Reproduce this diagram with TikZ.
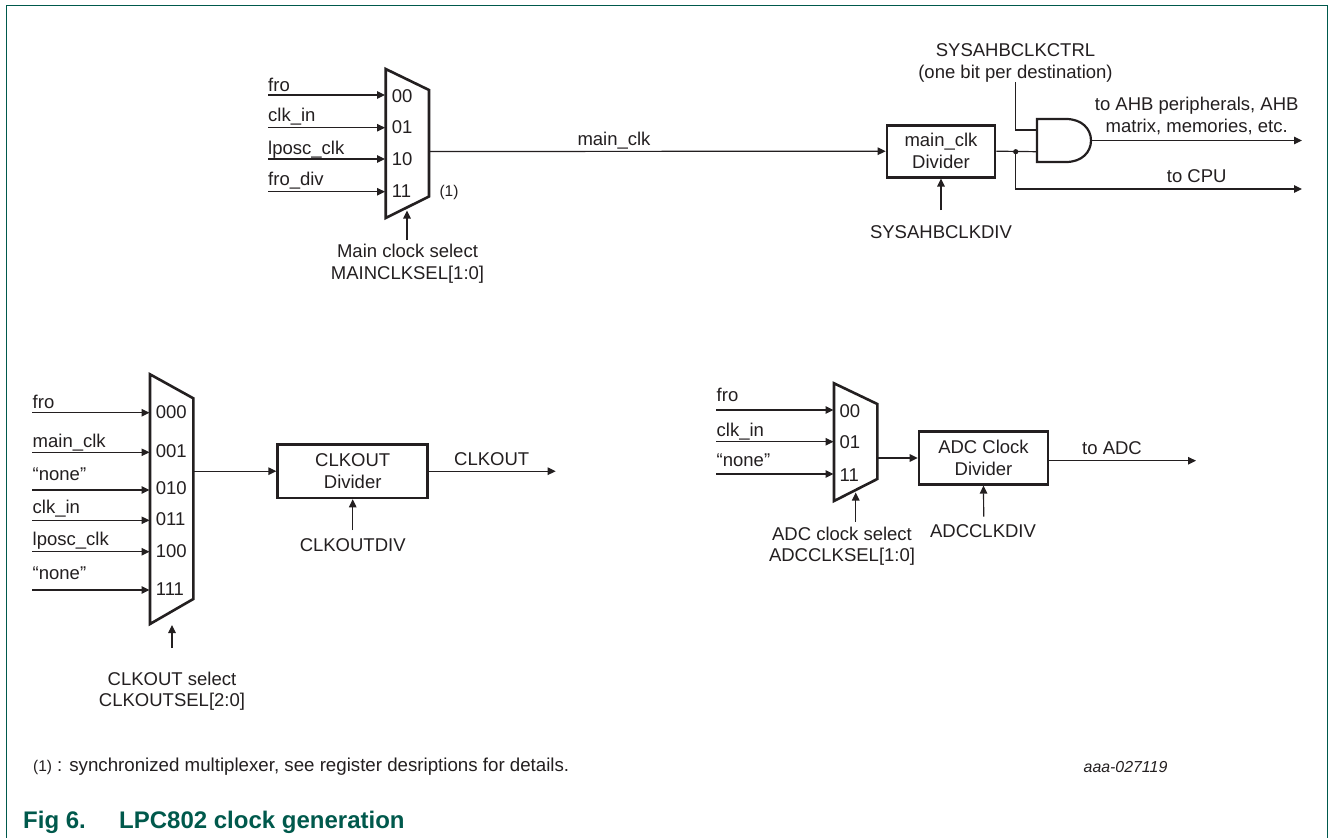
\documentclass[tikz,border=0pt]{standalone}
\usepackage{fontspec}
\setmainfont{Liberation Sans}
\usetikzlibrary{arrows.meta}
\definecolor{ink}{HTML}{231F20}
\definecolor{nxp}{HTML}{00594C}
\tikzset{
  wire/.style={draw=ink,line width=1.2pt},
  arrowwire/.style={wire,-{Triangle[length=8pt,width=7.5pt]}},
  thick box/.style={draw=ink,line width=2.6pt,inner sep=0pt,align=center,font=\fontsize{18.5}{22}\selectfont,text=ink},
  muxbody/.style={draw=ink,line width=2.6pt,line join=miter,fill=white},
  mlbl/.style={inner sep=0pt,text=ink,font=\fontsize{18.5}{21.5}\selectfont,align=center},
  lbl/.style={mlbl,text height=15.5pt,text depth=3.5pt},
  lblw/.style={lbl,anchor=west},
  smalltext/.style={inner sep=0pt,text=ink,font=\fontsize{15.5}{18}\selectfont},
  captext/.style={inner sep=0pt,anchor=west,text=nxp,font=\fontsize{24}{28}\selectfont\bfseries},
  frameline/.style={draw=nxp,line width=1.3pt}
}
\begin{document}
\begin{tikzpicture}[x=1pt,y=-1pt]
\useasboundingbox (0,0) rectangle (1328,838);
\clip (0,0) rectangle (1328,838);
\fill[white] (0,0) rectangle (1328,838);
\draw[frameline] (6.5,845) -- (6.5,5.8) -- (1327.2,5.8) -- (1327.2,845);

% ---------- main clock mux
\foreach \n/\y in {a/95,b/127.7,c/159,d/191.7}{
  \coordinate (m1s\n) at (268,\y);
  \coordinate (m1e\n) at (385,\y);
  \draw[arrowwire] (m1s\n) -- (m1e\n);
}
\draw[muxbody] (385.7,69) -- (429,90) -- (429,196.5) -- (385.7,218) -- cycle;
\foreach \n/\t/\ly/\d/\dy in {a/fro/85/00/96.7,b/clk\_in/115.5/01/127.7,c/lposc\_clk/148/10/159,d/fro\_div/179/11/191}{
  \node[lblw] (m1l\n) at (268,\ly) {\t};
  \node[lblw] (m1d\n) at (391.7,\dy) {\d};
}
\node[smalltext] (note) at (449,192.7) {(1)};
\coordinate (m1sel) at (407,210.5);
\coordinate (m1sels) at (407,240);
\draw[arrowwire] (m1sels) -- (m1sel);
\node[mlbl] (m1lab) at (407.5,263.5) {Main clock select\\MAINCLKSEL[1:0]};

\node[thick box,minimum width=108pt,minimum height=52pt] (maindiv) at (941,151.2) {main\_clk\\Divider};
\coordinate (m1out) at (429,151.5);
\draw[arrowwire] (m1out) -- (maindiv.west);
\node[lbl] (mainlab) at (614,139) {main\_clk};
\coordinate (sysdiv) at (941,210);
\draw[arrowwire] (sysdiv) -- (maindiv.south);
\node[lbl] (sysdivlab) at (941,232) {SYSAHBCLKDIV};

% AND gate
\coordinate (andtl) at (1037,119);
\coordinate (andbl) at (1037,162);
\coordinate (andout) at (1091,140.5);
\draw[draw=ink,line width=2.2pt,fill=white] (andtl) -- (1066,119) .. controls (1082,119) and (1091,129) .. (andout) .. controls (1091,152) and (1082,162) .. (1066,162) -- (andbl) -- cycle;
\coordinate (dot) at (1015.7,151.7);
\coordinate (andb) at (1037,151.7);
\coordinate (andt) at (1037,130);
\coordinate (ctrl) at (1015.7,82);
\coordinate (ahb) at (1302,140.5);
\coordinate (cpu) at (1302,189);
\coordinate (cpuk) at (1015.7,189);
\draw[wire] (maindiv.east) -- (andb);
\draw[wire] (ctrl) |- (andt);
\draw[arrowwire] (andout) -- (ahb);
\draw[arrowwire] (dot) -- (cpuk) -- (cpu);
\fill[ink] (dot) circle (2.6pt);
\node[mlbl] (ctrllab) at (1015.5,63) {SYSAHBCLKCTRL\\(one bit per destination)};
\node[mlbl] (ahblab) at (1196.7,116) {to AHB peripherals, AHB\\matrix, memories, etc.};
\node[lbl] (cpulab) at (1196.7,176.7) {to CPU};

% ---------- CLKOUT mux
\foreach \n/\y in {a/412.7,b/452.3,c/490,d/520.3,e/551.7,f/590}{
  \coordinate (m2s\n) at (32,\y);
  \coordinate (m2e\n) at (149.5,\y);
  \draw[arrowwire] (m2s\n) -- (m2e\n);
}
\draw[muxbody] (150,374.3) -- (193.3,398.3) -- (193.3,599) -- (150,624) -- cycle;
\foreach \n/\t/\ly/\d/\dy in {a/fro/402/000/412.5,b/main\_clk/441/001/451.7,c/“none”/474.5/010/488.5,d/clk\_in/507.5/011/519.5,e/lposc\_clk/539.5/100/551,f/“none”/573/111/589}{
  \node[lblw] (m2l\n) at (32.5,\ly) {\t};
  \node[lblw] (m2d\n) at (155.7,\dy) {\d};
}
\node[thick box,minimum width=150pt,minimum height=53.5pt] (clkdiv) at (352.7,471.2) {CLKOUT\\Divider};
\coordinate (m2out) at (193.3,471.2);
\draw[arrowwire] (m2out) -- (clkdiv.west);
\coordinate (clkend) at (555.7,471.2);
\draw[arrowwire] (clkdiv.east) -- (clkend);
\node[lbl] (clklab) at (491.7,459.3) {CLKOUT};
\coordinate (clkdivs) at (352.7,530);
\draw[arrowwire] (clkdivs) -- (clkdiv.south);
\node[lbl] (clkdivlab) at (352.7,545.7) {CLKOUTDIV};
\coordinate (m2sels) at (172,648);
\coordinate (m2sel) at (172,625);
\draw[arrowwire] (m2sels) -- (m2sel);
\node[mlbl] (m2lab) at (172,691) {CLKOUT select\\CLKOUTSEL[2:0]};

% ---------- ADC mux
\foreach \n/\y in {a/410,b/441.7,c/474}{
  \coordinate (m3s\n) at (716,\y);
  \coordinate (m3e\n) at (833.5,\y);
  \draw[arrowwire] (m3s\n) -- (m3e\n);
}
\draw[muxbody] (834,383.3) -- (877.3,404) -- (877.3,479) -- (834,501) -- cycle;
\foreach \n/\t/\ly/\d/\dy in {a/fro/395.5/00/411,b/clk\_in/430/01/442,c/“none”/460/11/475}{
  \node[lblw] (m3l\n) at (716.5,\ly) {\t};
  \node[lblw] (m3d\n) at (839.5,\dy) {\d};
}
\node[thick box,minimum width=129pt,minimum height=52.5pt] (adcdiv) at (983.5,458) {ADC Clock\\Divider};
\coordinate (m3out) at (877.3,458);
\draw[arrowwire] (m3out) -- (adcdiv.west);
\coordinate (adcout) at (1048,460.7);
\coordinate (adcend) at (1196,460.7);
\draw[arrowwire] (adcout) -- (adcend);
\node[lbl] (adclab) at (1112,448) {to ADC};
\coordinate (adcdivs) at (983.7,516.7);
\draw[arrowwire] (adcdivs) -- (adcdiv.south);
\node[lbl] (adcdivlab) at (983,531.7) {ADCCLKDIV};
\coordinate (m3sels) at (855.7,521.7);
\coordinate (m3sel) at (855.7,492.5);
\draw[arrowwire] (m3sels) -- (m3sel);
\node[mlbl] (m3lab) at (842,546) {ADC clock select\\ADCCLKSEL[1:0]};

% ---------- footer
\node[smalltext,anchor=west] (fn1) at (33,767) {(1)};
\node[inner sep=0pt,anchor=west,text=ink,font=\fontsize{18.7}{22}\selectfont] (fn2) at (57,767) {: synchronized multiplexer, see register desriptions for details.};
\node[smalltext,anchor=center,font=\fontsize{15.9}{18}\selectfont\itshape] (code) at (1125.5,767.5) {aaa-027119};
\node[captext] (figno) at (23,822) {Fig 6.};
\node[captext] (figt) at (119,822) {LPC802 clock generation};
\end{tikzpicture}
\end{document}
